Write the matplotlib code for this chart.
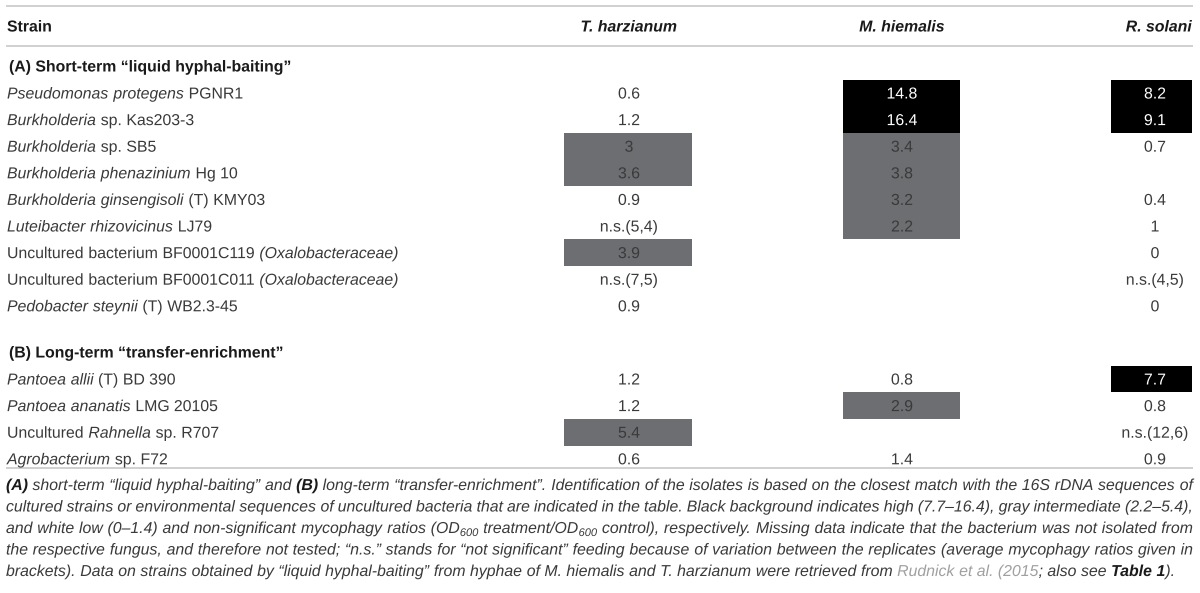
import re
import matplotlib
matplotlib.use("Agg")
import matplotlib.pyplot as plt
import matplotlib.patheffects as pe
from matplotlib.patches import Rectangle

plt.rcParams['font.family'] = ['Liberation Sans', 'DejaVu Sans']

# table content
columns = ["T. harzianum", "M. hiemalis", "R. solani"]
section_a = "(A) Short-term \u201cliquid hyphal-baiting\u201d"
section_b = "(B) Long-term \u201ctransfer-enrichment\u201d"

strains_a = [
    "<i>Pseudomonas protegens</i> PGNR1",
    "<i>Burkholderia</i> sp. Kas203-3",
    "<i>Burkholderia</i> sp. SB5",
    "<i>Burkholderia phenazinium</i> Hg 10",
    "<i>Burkholderia ginsengisoli</i> (T) KMY03",
    "<i>Luteibacter rhizovicinus</i> LJ79",
    "Uncultured bacterium BF0001C119 <i>(Oxalobacteraceae)</i>",
    "Uncultured bacterium BF0001C011 <i>(Oxalobacteraceae)</i>",
    "<i>Pedobacter steynii</i> (T) WB2.3-45",
]
t_harz_a = ["0.6", "1.2", "3", "3.6", "0.9", "n.s.(5,4)", "3.9", "n.s.(7,5)", "0.9"]
m_hiem_a = ["14.8", "16.4", "3.4", "3.8", "3.2", "2.2", "", "", ""]
r_sol_a = ["8.2", "9.1", "0.7", "", "0.4", "1", "0", "n.s.(4,5)", "0"]

strains_b = [
    "<i>Pantoea allii</i> (T) BD 390",
    "<i>Pantoea ananatis</i> LMG 20105",
    "Uncultured <i>Rahnella</i> sp. R707",
    "<i>Agrobacterium</i> sp. F72",
]
t_harz_b = ["1.2", "1.2", "5.4", "0.6"]
m_hiem_b = ["0.8", "2.9", "", "1.4"]
r_sol_b = ["7.7", "0.8", "n.s.(12,6)", "0.9"]

caption = [
    "<b>(A)</b> short-term \u201cliquid hyphal-baiting\u201d and <b>(B)</b> long-term \u201ctransfer-enrichment\u201d. "
    "Identification of the isolates is based on the closest match with the 16S rDNA sequences of",
    "cultured strains or environmental sequences of uncultured bacteria that are indicated in the table. "
    "Black background indicates high (7.7\u201316.4), gray intermediate (2.2\u20135.4),",
    "and white low (0\u20131.4) and non-significant mycophagy ratios (OD<s>600</s> treatment/OD<s>600</s> "
    "control), respectively. Missing data indicate that the bacterium was not isolated from",
    "the respective fungus, and therefore not tested; \u201cn.s.\u201d stands for \u201cnot significant\u201d "
    "feeding because of variation between the replicates (average mycophagy ratios given in",
    "brackets). Data on strains obtained by \u201cliquid hyphal-baiting\u201d from hyphae of M. hiemalis and "
    "T. harzianum were retrieved from <l>Rudnick et al. (2015</l>; also see <b>Table 1</b>).",
]

TXT = "#3a3a3a"
DARK = "#1a1a1a"
GRAY = "#6d6e71"
RULE = "#c8c8c8"
# drawing text through the path renderer keeps all words on one exact baseline
NORMAL = [pe.Normal()]

fig = plt.figure(figsize=(12, 5.93), dpi=100)
ax = fig.add_axes([0, 0, 1, 1])
ax.set_xlim(0, 1200)
ax.set_ylim(593, 0)
ax.axis('off')
renderer = fig.canvas.get_renderer()


def parse(markup, base):
    # split "<i>..</i>" style markup into (text, style) pieces
    out = []
    for m in re.finditer(r"<(\w)>(.*?)</\1>|([^<]+)", markup):
        if m.group(3) is not None:
            out.append((m.group(3), base))
        else:
            out.append((m.group(2), m.group(1)))
    return out


def style_kw(style, size, italic_base):
    kw = dict(fontsize=size, color=TXT, fontstyle='italic' if italic_base else 'normal')
    if style == 'i':
        kw['fontstyle'] = 'italic'
    elif style == 'b':
        kw['fontweight'] = 'bold'
        kw['color'] = DARK
    elif style == 'l':
        kw['color'] = '#a0a0a0'
    elif style == 's':
        kw['fontsize'] = size * 0.7
    return kw


def words_of(pieces):
    # group pieces into words (lists of pieces) split at spaces
    words = [[]]
    for text, style in pieces:
        parts = text.split(" ")
        for k, p in enumerate(parts):
            if k > 0:
                words.append([])
            if p:
                words[-1].append((p, style))
    return [w for w in words if w]


def draw_word(x, y, word, size, italic_base, measure_only=False):
    x0 = x
    for text, style in word:
        kw = style_kw(style, size, italic_base)
        dy = 3 if style == 's' else 0
        t = ax.text(x, y + dy, text, ha='left', va='baseline', path_effects=NORMAL, **kw)
        w = t.get_window_extent(renderer).width
        if measure_only:
            t.remove()
        x += w
    return x - x0


def space_width(size, italic_base):
    st = 'italic' if italic_base else 'normal'
    a = ax.text(0, 0, "n n", fontsize=size, fontstyle=st)
    b = ax.text(0, 0, "nn", fontsize=size, fontstyle=st)
    w = a.get_window_extent(renderer).width - b.get_window_extent(renderer).width
    a.remove()
    b.remove()
    return w


def draw_rich(x, y, markup, size, italic_base=False, justify_to=None):
    base = 'i' if italic_base else 'n'
    words = words_of(parse(markup, base))
    sp = space_width(size, italic_base)
    if justify_to is not None:
        total = sum(draw_word(0, 0, w, size, italic_base, True) for w in words)
        sp = (justify_to - x - total) / (len(words) - 1)
    for w in words:
        x += draw_word(x, y, w, size, italic_base) + sp


BODY = 11.4
row_h = 26.6
col_x = [629, 902, 1155]
box_x = [(564, 692), (843, 960), (1111, 1192)]


def cell_color(val):
    try:
        v = float(val)
    except ValueError:
        return None
    if v >= 7.7:
        return 'black'
    if v >= 2.2:
        return GRAY
    return None


def draw_block(y_first, strains, cols):
    for i, name in enumerate(strains):
        draw_rich(7, y_first + i * row_h + 5.5, name, BODY)
    for j, vals in enumerate(cols):
        fills = [cell_color(v) for v in vals]
        # one rectangle per run of equally shaded cells, so no seams show
        i = 0
        while i < len(fills):
            k = i
            while k + 1 < len(fills) and fills[k + 1] == fills[i]:
                k += 1
            if fills[i] is not None:
                x0, x1 = box_x[j]
                top = y_first + i * row_h - row_h / 2
                ax.add_patch(Rectangle((x0, top), x1 - x0, (k - i + 1) * row_h,
                                       facecolor=fills[i], edgecolor='none'))
            i = k + 1
        for i, val in enumerate(vals):
            ax.text(col_x[j], y_first + i * row_h + 5.5, val, ha='center', va='baseline',
                    fontsize=BODY, color='white' if fills[i] == 'black' else TXT,
                    path_effects=NORMAL)


# rules
for yl in [6, 46, 468]:
    ax.plot([6, 1193], [yl, yl], color=RULE, lw=1.2, solid_capstyle='butt')

# header
ax.text(7, 31.5, "Strain", fontsize=BODY, fontweight='bold', color=DARK, va='baseline',
        path_effects=NORMAL)
for j, c in enumerate(columns):
    ha = 'right' if j == 2 else 'center'
    xx = 1192 if j == 2 else col_x[j]
    ax.text(xx, 31.5, c, fontsize=BODY, fontweight='bold', fontstyle='italic',
            color=DARK, ha=ha, va='baseline', path_effects=NORMAL)

ax.text(9, 71.5, section_a, fontsize=BODY, fontweight='bold', color=DARK, va='baseline',
        path_effects=NORMAL)
draw_block(93, strains_a, [t_harz_a, m_hiem_a, r_sol_a])
ax.text(9, 357.5, section_b, fontsize=BODY, fontweight='bold', color=DARK, va='baseline',
        path_effects=NORMAL)
draw_block(379, strains_b, [t_harz_b, m_hiem_b, r_sol_b])

# caption, justified except last line
for k, line in enumerate(caption):
    yb = 490 + k * 21.5
    last = k == len(caption) - 1
    draw_rich(6, yb, line, 11.4, italic_base=True, justify_to=None if last else 1193)

fig.savefig("out.png", dpi=100)
